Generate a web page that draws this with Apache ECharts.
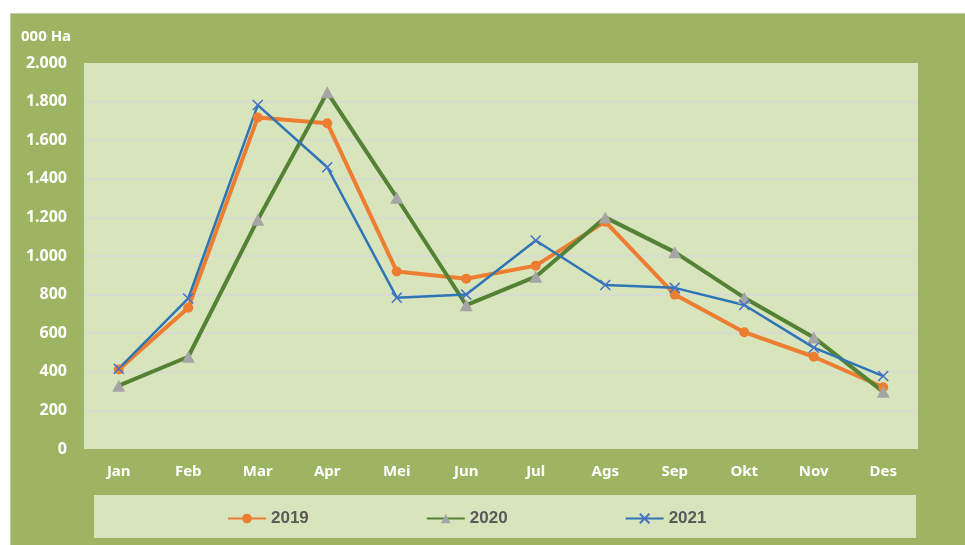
<!DOCTYPE html>
<html>
<head>
<meta charset="utf-8">
<style type="text/css">
body { margin: 0; background: #fff; }
#chart { position: absolute; left: 10px; top: 13px; width: 955px; height: 532px; border-top: 1px solid #c4cbaa; border-left: 1px solid #c4cbaa; box-sizing: border-box; }
</style>
</head>
<body>
<div id="chart"></div>
<script src="https://cdn.jsdelivr.net/npm/echarts@6/dist/echarts.min.js"></script>
<script type="text/javascript">
// bulan
var months = ['Jan', 'Feb', 'Mar', 'Apr', 'Mei', 'Jun', 'Jul', 'Ags', 'Sep', 'Okt', 'Nov', 'Des'];
// luas (000 Ha)
var data2019 = [412, 732, 1718, 1688, 920, 882, 950, 1178, 800, 605, 478, 320];
var data2020 = [328, 478, 1188, 1848, 1302, 745, 893, 1200, 1020, 784, 578, 296];
var data2021 = [416, 780, 1782, 1460, 784, 800, 1080, 850, 835, 746, 525, 378];
var yTicks = [0, 200, 400, 600, 800, 1000, 1200, 1400, 1600, 1800, 2000];

var font = 'Noto Sans';

function fmt(v) {
    // pemisah ribuan pakai titik
    return String(v).replace(/\B(?=(\d{3})+(?!\d))/g, '.');
}

var myChart = echarts.init(document.getElementById('chart'));
option = {
    backgroundColor: '#9db563',
    animation: false,
    title: {
        text: '000 Ha',
        left: 5,
        top: 10,
        textStyle: { color: '#fff', fontSize: 15, fontWeight: 'bold', fontFamily: font }
    },
    graphic: [
        {
            type: 'rect',
            shape: { x: 83, y: 481, width: 822, height: 43 },
            style: { fill: '#d8e4bc' },
            z: -1
        }
    ],
    legend: {
        data: ['2019', '2020', '2021'],
        left: 211,
        top: 491,
        itemGap: 117,
        itemWidth: 38,
        itemHeight: 12,
        textStyle: { color: '#595959', fontSize: 17, fontWeight: 'bold', fontFamily: 'Liberation Sans' }
    },
    grid: {
        left: 73,
        top: 49,
        width: 834,
        height: 386,
        show: true,
        backgroundColor: '#d8e4bc',
        borderWidth: 0
    },
    xAxis: {
        type: 'category',
        boundaryGap: true,
        data: months,
        axisLine: { show: false },
        axisTick: { show: false },
        axisLabel: { color: '#fff', fontSize: 15, fontWeight: 'bold', fontFamily: font, margin: 15 }
    },
    yAxis: {
        type: 'value',
        min: yTicks[0],
        max: yTicks[yTicks.length - 1],
        interval: 200,
        axisLine: { show: false },
        axisTick: { show: false },
        axisLabel: { color: '#fff', fontSize: 16, fontWeight: 'bold', fontFamily: font, margin: 17, formatter: fmt },
        splitLine: { showMinLine: false, showMaxLine: false, lineStyle: { color: '#d9d9d9', width: 1.5 } }
    },
    series: [
        {
            name: '2019',
            type: 'line',
            data: data2019,
            symbol: 'circle',
            symbolSize: 10,
            itemStyle: { color: '#ed7d31' },
            lineStyle: { color: '#ed7d31', width: 4 }
        },
        {
            name: '2020',
            type: 'line',
            data: data2020,
            symbol: 'triangle',
            symbolSize: [13, 12],
            itemStyle: { color: '#a5a5a5' },
            lineStyle: { color: '#548235', width: 4 }
        },
        {
            name: '2021',
            type: 'line',
            data: data2021,
            symbol: 'path://M0,0L10,10M10,0L0,10',
            symbolSize: 10,
            itemStyle: { color: '#4472c4', borderColor: '#4472c4', borderWidth: 1.5 },
            lineStyle: { color: '#2e75b6', width: 2.5 }
        }
    ]
};
myChart.setOption(option);
</script>
</body>
</html>
